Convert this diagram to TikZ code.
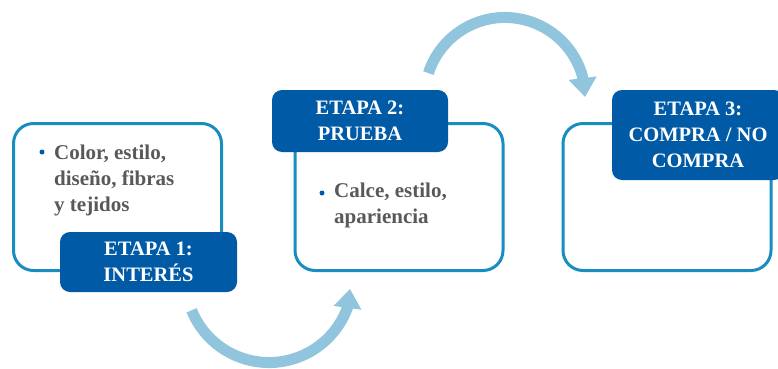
\documentclass[tikz,border=0pt]{standalone}
\usepackage{fontspec}
\setmainfont{Liberation Serif}
\usetikzlibrary{arrows.meta}

\definecolor{frameblue}{RGB}{24,142,192}
\definecolor{tagblue}{RGB}{0,90,165}
\definecolor{flowblue}{RGB}{145,197,221}
\definecolor{textgray}{RGB}{88,89,91}

\tikzset{
  stage/.style={draw=frameblue, line width=3pt, rounded corners=20pt,
    minimum width=208pt, minimum height=147pt, fill=white},
  tag/.style={fill=tagblue, rounded corners=10pt, text=white, inner sep=0pt,
    font=\fontsize{20.5}{26}\selectfont\bfseries, align=center},
  item/.style={anchor=north west, inner sep=0pt, text=textgray,
    font=\fontsize{21}{26}\selectfont\bfseries, align=left},
  dot/.style={circle, fill=tagblue, inner sep=0pt, minimum size=5pt},
  flow/.style={draw=flowblue, line width=11pt,
    arrows={-Triangle[width=27pt,length=19pt]}}
}

\begin{document}
\begin{tikzpicture}[x=1pt, y=1pt]
\useasboundingbox (0,0) rectangle (778,368);

% curved arrows between the stages
\coordinate (low start) at (191.6,57.7);
\coordinate (low tip) at (350,79);
\draw[flow] (low start) arc[start angle=202, end angle=340, radius=83.5] -- (low tip);
\coordinate (high start) at (428.4,294.9);
\coordinate (high tip) at (585,271);
\draw[flow] (high start) arc[start angle=162, end angle=16, radius=80.5] -- (high tip);

% stage frames
\node[stage] at (117.5,171) (frame1) {};
\node[stage] at (399,171) (frame2) {};
\node[stage] at (667,171) (frame3) {};

% contents
\node[dot] at (42,216) (dot1) {};
\node[item] at (54,223) (text1) {Color, estilo,\\diseño, fibras\\y tejidos};
\node[dot] at (322,175) (dot2) {};
\node[item] at (334,185) (text2) {Calce, estilo,\\apariencia};

% stage tags
\node[tag, minimum width=177pt, minimum height=60pt] at (148.5,106) (tag1) {ETAPA 1:\\INTERÉS};
\node[tag, minimum width=176pt, minimum height=62pt] at (360,247) (tag2) {ETAPA 2:\\PRUEBA};
\node[tag, minimum width=172pt, minimum height=90pt] at (698,233) (tag3) {ETAPA 3:\\COMPRA / NO\\COMPRA};
\end{tikzpicture}
\end{document}
